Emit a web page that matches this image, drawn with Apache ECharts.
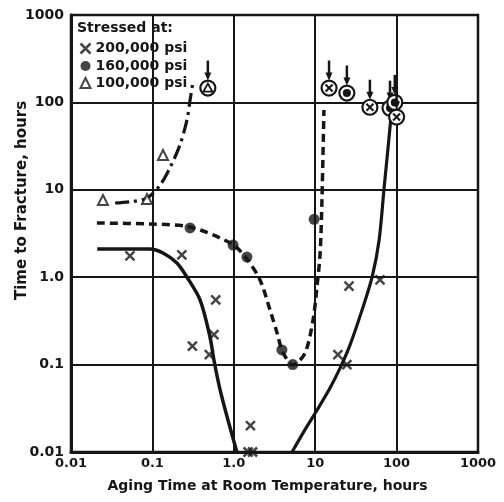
<!DOCTYPE html>
<html><head><meta charset="utf-8">
<script src="https://cdn.jsdelivr.net/npm/echarts/dist/echarts.min.js"></script>
<style>html,body{margin:0;padding:0;background:#fff}#c{width:504px;height:502px}</style>
</head><body><div id="c"></div>
<script>
// ---- data ----
const tickLabels = ['0.01', '0.1', '1.0', '10', '100', '1000'];
const seriesNames = ['200,000 psi', '160,000 psi', '100,000 psi'];

// fitted curves
const curve200a = [[0.021,2.1],[0.093,2.1],[0.135,1.89],[0.2,1.45],[0.266,1.0],[0.385,0.55],[0.51,0.207],[0.57,0.113],[0.68,0.051],[0.85,0.023],[1.09,0.01]];
const curve200b = [[5.2,0.01],[7.5,0.018],[10.5,0.03],[15.2,0.054],[20.2,0.091],[26.8,0.168],[37.6,0.42],[50,1.0],[61,2.67],[70,10.2],[78,28.5],[85,66]];
const curve160 = [[0.0208,4.17],[0.093,4.06],[0.29,3.75],[0.95,2.4],[1.45,1.61],[2.1,0.93],[2.79,0.42],[3.4,0.23],[4.0,0.139],[5.33,0.099],[7.5,0.136],[9.4,0.324],[10.5,0.77],[11.5,1.89],[12.1,7.6],[12.8,82]];
const curve100 = [[0.0348,7.06],[0.0531,7.3],[0.0859,8.05],[0.124,11.3],[0.164,17.8],[0.218,32.6],[0.266,63],[0.29,106],[0.315,171]];

// measured points
const pts200 = [[0.053,1.75],[0.23,1.8],[0.6,0.55],[0.57,0.22],[0.31,0.163],[0.5,0.13],[1.6,0.02],[1.5,0.01],[1.7,0.01],[19,0.13],[24.5,0.1],[26,0.79],[62.5,0.93]];
const pts160 = [[0.29,3.66],[0.98,2.33],[1.45,1.7],[3.9,0.147],[5.3,0.1],[9.7,4.6]];
const pts100 = [[0.0247,7.64],[0.0859,7.85],[0.135,25]];

// unbroken specimens (circled, with arrow); kind: 0 = x, 1 = dot, 2 = triangle
const runX = [0.48, 14.8, 24.5, 47, 83, 95, 100];
const runY = [146, 146, 128, 88, 86, 100, 68];
const runKind = [2, 0, 1, 0, 1, 1, 0];

// ---- chart ----
const ink = '#161616';
const font = 'DejaVu Sans';
const xPath = 'path://M0,0L10,10M10,0L0,10';
const fmt = v => tickLabels[Math.round(Math.log10(v)) + 2];
const runData = runX.map((x, i) => [x, runY[i], runKind[i]]);

function renderRun(params, api) {
  const p = api.coord([api.value(0), api.value(1)]);
  const k = api.value(2);
  const r = 7.5;
  const ch = [
    {type: 'line', shape: {x1: p[0], y1: p[1] - r - 20, x2: p[0], y2: p[1] - r - 4}, style: {stroke: ink, lineWidth: 2.5}},
    {type: 'polygon', shape: {points: [[p[0] - 3.5, p[1] - r - 8], [p[0] + 3.5, p[1] - r - 8], [p[0], p[1] - r]]}, style: {fill: ink}},
    {type: 'circle', shape: {cx: p[0], cy: p[1], r: r}, style: {fill: '#fff', stroke: ink, lineWidth: 2.2}}
  ];
  if (k === 0) {
    ch.push({type: 'path', shape: {pathData: `M${p[0]-3.5},${p[1]-3.5}L${p[0]+3.5},${p[1]+3.5}M${p[0]+3.5},${p[1]-3.5}L${p[0]-3.5},${p[1]+3.5}`}, style: {stroke: ink, lineWidth: 2, fill: null}});
  } else if (k === 1) {
    ch.push({type: 'circle', shape: {cx: p[0], cy: p[1], r: 4}, style: {fill: ink}});
  } else {
    ch.push({type: 'polygon', shape: {points: [[p[0], p[1] - 4.5], [p[0] + 4.5, p[1] + 3.5], [p[0] - 4.5, p[1] + 3.5]]}, style: {fill: '#fff', stroke: ink, lineWidth: 1.8}});
  }
  return {type: 'group', children: ch};
}

const chart = echarts.init(document.getElementById('c'), null, {renderer: 'canvas'});
const axisCommon = {
  type: 'log', logBase: 10, min: 0.01, max: 1000, interval: 1,
  axisLine: {show: true, lineStyle: {color: ink, width: 3}},
  axisTick: {show: false},
  minorTick: {show: false},
  splitLine: {show: true, lineStyle: {color: ink, width: 2}},
  axisLabel: {formatter: fmt, color: ink, fontFamily: font, fontWeight: 'bold'}
};
chart.setOption({
  animation: false,
  backgroundColor: '#fff',
  title: {text: 'Stressed at:', left: 72, top: 16, textStyle: {fontFamily: font, fontWeight: 'bold', fontSize: 14, color: ink}},
  legend: {
    orient: 'vertical', left: 73, top: 36, itemGap: 3, itemWidth: 10, itemHeight: 10,
    textStyle: {fontFamily: font, fontWeight: 'bold', fontSize: 14, color: ink},
    data: [
      {name: seriesNames[0], icon: xPath, itemStyle: {color: 'none', borderColor: ink, borderWidth: 2.5}},
      {name: seriesNames[1], icon: 'circle', itemStyle: {color: ink}},
      {name: seriesNames[2], icon: 'triangle', itemStyle: {color: '#fff', borderColor: ink, borderWidth: 2}}
    ]
  },
  grid: {left: 71, right: 26, top: 15, bottom: 50, containLabel: false, outerBoundsMode: 'none', show: true, borderColor: ink, borderWidth: 2.5, backgroundColor: '#fff'},
  xAxis: Object.assign({}, axisCommon, {
    name: 'Aging Time at Room Temperature, hours', nameLocation: 'middle', nameGap: 27,
    nameTextStyle: {fontFamily: font, fontWeight: 'bold', fontSize: 14, color: ink, padding: [0, 14, 0, 0]},
    axisLabel: Object.assign({}, axisCommon.axisLabel, {fontSize: 13, margin: 5})
  }),
  yAxis: Object.assign({}, axisCommon, {
    name: 'Time to Fracture, hours', nameLocation: 'middle', nameGap: 41, nameMoveOverlap: false,
    nameTextStyle: {fontFamily: font, fontWeight: 'bold', fontSize: 15, color: ink, padding: [0, 0, 0, 66]},
    axisLabel: Object.assign({}, axisCommon.axisLabel, {fontSize: 14, margin: 7})
  }),
  series: [
    {name: 'c200a', type: 'line', data: curve200a, smooth: 0.3, showSymbol: false, lineStyle: {color: ink, width: 3.5}, z: 3},
    {name: 'c200b', type: 'line', data: curve200b, smooth: 0.3, showSymbol: false, lineStyle: {color: ink, width: 3.2}, z: 3},
    {name: 'c160', type: 'line', data: curve160, smooth: 0.3, showSymbol: false, lineStyle: {color: ink, width: 3.5, type: [8, 5]}, z: 3},
    {name: 'c100', type: 'line', data: curve100, smooth: 0.3, showSymbol: false, lineStyle: {color: ink, width: 3.2, type: [14, 5, 3, 5]}, z: 3},
    {name: seriesNames[0], type: 'scatter', data: pts200, symbol: xPath, symbolSize: 9, itemStyle: {color: 'none', borderColor: ink, borderWidth: 2.5}, z: 4},
    {name: seriesNames[1], type: 'scatter', data: pts160, symbol: 'circle', symbolSize: 11, itemStyle: {color: ink}, z: 4},
    {name: seriesNames[2], type: 'scatter', data: pts100, symbol: 'triangle', symbolSize: 10, itemStyle: {color: '#fff', borderColor: ink, borderWidth: 2}, z: 4},
    {name: 'runout', type: 'custom', data: runData, renderItem: renderRun, z: 5}
  ]
});
</script></body></html>
